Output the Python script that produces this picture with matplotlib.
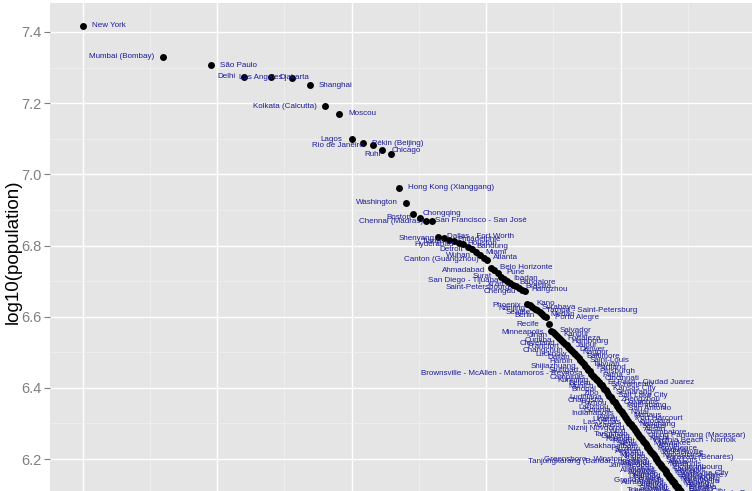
import numpy as np
import matplotlib
matplotlib.use("Agg")
import matplotlib.pyplot as plt
from matplotlib.ticker import MultipleLocator

cities = [
    "New York", "Mumbai (Bombay)", "São Paulo", "Delhi", "Djakarta", "Los Angeles",
    "Shanghai", "Kolkata (Calcutta)", "Moscou", "Lagos", "Pékin (Beijing)", "Rio de Janeiro",
    "Chicago", "Ruhr", "Hong Kong (Xianggang)", "Washington", "Chongqing", "Boston",
    "San Francisco - San José", "Chennai (Madras)", "Dallas - Fort Worth", "Shenyang",
    "Philadelphie", "Tianjin", "Houston", "Hyderabad", "Bandung", "Detroit", "Miami", "Wuhan",
    "Atlanta", "Canton (Guangzhou)", "Belo Horizonte", "Ahmadabad", "Pune", "Surat",
    "Ibadan", "San Diego - Tijuana", "Bangalore", "Xi'an", "Brasilia", "Saint-Petersbourg",
    "Hangzhou", "Chengdu", "Kano", "Phoenix", "Surabaya", "Nanjing",
    "Tampa - Saint-Petersburg", "Seattle", "Medan", "Berlin", "Porto Alegre", "Recife",
    "Salvador", "Minneapolis", "Kanpur", "Jinan", "Fortaleza", "Curitiba",
    "Hambourg", "Cleveland", "Jaipur", "Francfort", "Denver", "Changchun",
    "Nagpur", "Lucknow", "Baltimore", "Dalian", "Saint-Louis", "Harbin",
    "Taiyuan", "Shijiazhuang", "Portland", "Stuttgart", "Pittsburgh",
    "Brownsville - McAllen - Matamoros - Reynosa", "Patna", "Campinas", "Cincinnati", "Kunming",
    "El Paso - Ciudad Juarez", "Belém", "Sacramento", "Munich", "Kansas City", "Bhopal",
    "Semarang", "Zibo", "Salt Lake City", "Ludhiana", "Zhengzhou", "Changsha",
    "Columbus", "Fuzhou", "Palembang", "Lanzhou", "San Antonio", "Goiania",
    "Natal", "Indianapolis", "Manaus", "Agra", "Port Harcourt", "Urumqi",
    "Vadodara", "Las Vegas", "Nanchang", "Asansol", "Santos", "Niznij Novgorod",
    "Austin", "Wuxi", "Coimbatore", "Tangshan", "Ujung Pandang (Macassar)", "Guiyang",
    "Kochi", "Raleigh", "Virginia Beach - Norfolk", "Rajkot", "Milwaukee", "Hefei",
    "Vitória", "Visakhapatnam", "Providence", "Suzhou", "Madurai", "Anshan",
    "Jacksonville", "Meerut", "Novosibirsk", "Ningbo", "Varanasi (Bénarès)",
    "Greensboro - Winston-Salem", "São Luís", "Tanjungkarang (Bandar Lampung)", "Abuja",
    "Jabalpur", "Memphis", "Jamshedpur", "Iekaterinbourg", "Foshan", "Louisville",
    "Allahabad", "Maceió", "Amritsar", "Oklahoma City", "Xiamen", "Leipzig-Halle",
    "Dhanbad", "Richmond", "Samara", "Nuremberg", "Grand Rapids", "Mannheim",
    "Aurangabad", "Malang", "Shantou", "Hartford", "Kazan", "Teresina", "Srinagar",
    "Buffalo", "Tcheliabinsk", "Benin City", "Vijayawada", "Rostov-sur-le-Don", "Nanning",
    "Yogyakarta", "Omsk", "Tucson", "Luoyang", "Padang",
]

log_population = [
    7.417, 7.330, 7.307, 7.274, 7.273, 7.272, 7.250, 7.191, 7.170, 7.099,
    7.087, 7.082, 7.068, 7.057, 6.962, 6.920, 6.889, 6.878, 6.870, 6.868,
    6.824, 6.821, 6.816, 6.812, 6.807, 6.803, 6.797, 6.790, 6.781, 6.773,
    6.766, 6.760, 6.737, 6.731, 6.723, 6.712, 6.707, 6.701, 6.696, 6.690,
    6.686, 6.681, 6.676, 6.671, 6.637, 6.632, 6.627, 6.622, 6.618, 6.612,
    6.607, 6.602, 6.598, 6.579, 6.561, 6.556, 6.550, 6.546, 6.539, 6.534,
    6.530, 6.524, 6.519, 6.515, 6.509, 6.504, 6.499, 6.495, 6.489, 6.484,
    6.478, 6.474, 6.467, 6.461, 6.456, 6.450, 6.446, 6.440, 6.434, 6.430,
    6.425, 6.421, 6.416, 6.412, 6.408, 6.403, 6.398, 6.394, 6.388, 6.383,
    6.378, 6.374, 6.368, 6.364, 6.359, 6.355, 6.350, 6.345, 6.341, 6.336,
    6.332, 6.327, 6.323, 6.318, 6.314, 6.310, 6.306, 6.302, 6.298, 6.294,
    6.290, 6.286, 6.282, 6.278, 6.274, 6.270, 6.266, 6.263, 6.259, 6.255,
    6.251, 6.248, 6.244, 6.241, 6.237, 6.234, 6.230, 6.227, 6.223, 6.220,
    6.217, 6.213, 6.210, 6.206, 6.203, 6.200, 6.197, 6.193, 6.190, 6.187,
    6.184, 6.181, 6.177, 6.174, 6.171, 6.168, 6.165, 6.162, 6.159, 6.156,
    6.153, 6.150, 6.147, 6.145, 6.142, 6.139, 6.136, 6.134, 6.131, 6.128,
    6.125, 6.122, 6.120, 6.117, 6.114, 6.112, 6.109, 6.106, 6.104, 6.101,
    6.099, 6.096, 6.093, 6.091, 6.088,
]

y_ticks = [6.2, 6.4, 6.6, 6.8, 7.0, 7.2, 7.4]
y_tick_labels = ["6.2", "6.4", "6.6", "6.8", "7.0", "7.2", "7.4"]
y_label = "log10(population)"
title = "Les grandes agglomérations"

rank = np.arange(1, len(log_population) + 1)
x = np.log10(rank)
y = np.array(log_population)

W, H = 752, 491
fig = plt.figure(figsize=(W / 100, H / 100), dpi=100)
ax = fig.add_axes([50 / W, 0, (W - 50) / W, (H - 3) / H])
ax.set_facecolor("#E5E5E5")
for s in ax.spines.values():
    s.set_visible(False)

ax.set_xlim((50 - 82.5) / 269, (752 - 82.5) / 269)
ax.set_ylim(6.2 - (491 - 459) / 356, 7.4 + (32 - 3) / 356)

ax.xaxis.set_major_locator(MultipleLocator(0.5))
ax.xaxis.set_minor_locator(MultipleLocator(0.25))
ax.set_yticks(y_ticks)
ax.set_yticklabels(y_tick_labels)
ax.yaxis.set_minor_locator(MultipleLocator(0.1))
ax.grid(which="major", color="white", linewidth=1.0)
ax.grid(which="minor", color="#F2F2F2", linewidth=0.45)
ax.set_axisbelow(True)
ax.tick_params(axis="y", which="major", colors="#7F7F7F", labelsize=10.5,
               length=4, width=0.8, pad=2, labelfontfamily="Liberation Sans")
ax.tick_params(axis="y", which="minor", length=0)
ax.tick_params(axis="x", which="both", length=0, labelbottom=False)
for lbl in ax.get_yticklabels():
    lbl.set_color("#7F7F7F")

ax.set_ylabel(y_label, fontsize=13.5, family="Liberation Sans")
ax.yaxis.set_label_coords((22 - 50) / (W - 50), 0.49)

ax.scatter(x, y, s=25, color="black", zorder=3, linewidths=0)

off = 9 / 269
for r, xi, yi, name in zip(rank, x, y, cities):
    if r % 2 == 1:
        ax.text(xi + off, yi, name, ha="left", va="center", fontsize=5.8,
                color="#1C1C9C", family="Liberation Sans", zorder=4, clip_on=True)
    else:
        ax.text(xi - off, yi, name, ha="right", va="center", fontsize=5.8,
                color="#1C1C9C", family="Liberation Sans", zorder=4, clip_on=True)

fig.text(269 / W, 1 + 5 / H, title, ha="left", va="baseline", fontsize=16.5,
         family="Liberation Sans")

fig.savefig("out.png", dpi=100)
